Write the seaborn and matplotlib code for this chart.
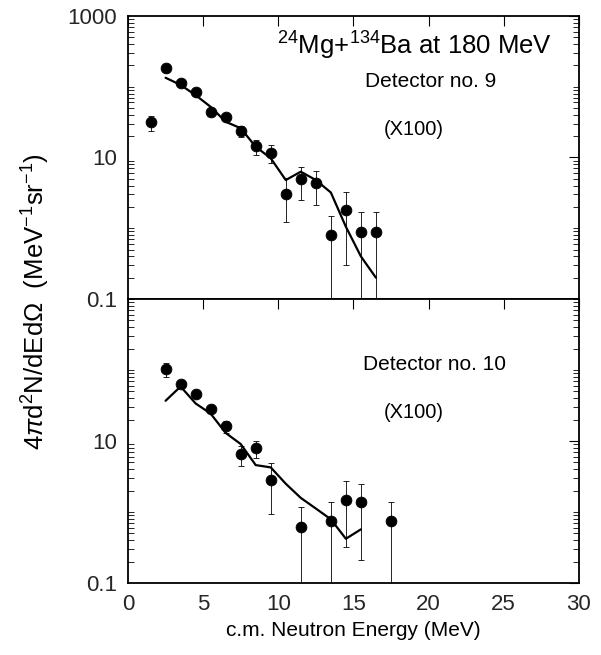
import numpy as np
import pandas as pd
import matplotlib
matplotlib.use("Agg")
import matplotlib.pyplot as plt
import seaborn as sns
from matplotlib.ticker import LogLocator, FixedLocator, NullFormatter

sns.set_theme(style="white")
plt.rcParams['font.family'] = ['Liberation Sans', 'DejaVu Sans']
plt.rcParams['mathtext.fontset'] = 'custom'
plt.rcParams['mathtext.rm'] = 'Liberation Sans'
plt.rcParams['mathtext.it'] = 'Liberation Sans:italic'

# ---- Detector no. 9 (top) ----
d9_energy = [1.5, 2.5, 3.5, 4.5, 5.5, 6.5, 7.5, 8.5, 9.5, 10.5, 11.5, 12.5, 13.5, 14.5, 15.5, 16.5]
d9_value = [31.5, 182, 112, 85, 43.5, 37, 23.7, 14.7, 11.7, 3.05, 4.97, 4.4, 0.80, 1.81, 0.895, 0.895]
d9_low = [23.9, 182, 112, 85, 43.5, 37, 19.3, 10.8, 8.3, 1.24, 2.5, 2.14, 0.01, 0.30, 0.01, 0.01]
d9_high = [38.6, 182, 112, 85, 43.5, 37, 27.9, 17.7, 15.0, 5.1, 7.4, 6.5, 1.49, 3.3, 1.7, 1.7]
d9_calc_energy = [2.5, 3.5, 4.5, 5.5, 6.5, 7.5, 8.5, 9.5, 10.5, 11.5, 12.5, 13.5, 14.5, 15.5, 16.5]
d9_calc_value = [134, 106, 76, 52, 32, 25.9, 14.2, 9.75, 4.8, 6.3, 4.8, 3.2, 1.05, 0.40, 0.20]

# ---- Detector no. 10 (bottom) ----
d10_energy = [2.5, 3.5, 4.5, 5.5, 6.5, 7.5, 8.5, 9.5, 11.5, 13.5, 14.5, 15.5, 17.5]
d10_value = [104, 64, 46, 28, 16.2, 6.6, 7.9, 2.87, 0.625, 0.736, 1.48, 1.38, 0.736]
d10_low = [81, 64, 46, 28, 13, 4.5, 5.7, 0.94, 0.01, 0.01, 0.32, 0.21, 0.01]
d10_high = [126, 64, 46, 28, 19, 8.4, 10, 4.85, 1.17, 1.38, 2.7, 2.5, 1.38]
d10_calc_energy = [2.5, 3.5, 4.5, 5.5, 6.5, 7.5, 8.5, 9.5, 10.5, 11.5, 12.5, 13.5, 14.5, 15.5]
d10_calc_value = [36.9, 58.5, 33.8, 24.3, 13.0, 9.06, 4.58, 4.25, 2.5, 1.58, 1.12, 0.79, 0.42, 0.57]

x_ticks = [0, 5, 10, 15, 20, 25, 30]
y_label_values = [1000, 10, 0.1]
y_label_texts = ["1000", "10", "0.1"]

fig = plt.figure(figsize=(6.01, 6.55), dpi=100)
ax_top = fig.add_axes([0.213, 0.5435, 0.75, 0.4321])
ax_bot = fig.add_axes([0.213, 0.1099, 0.75, 0.4336])

panels = [
    (ax_top, d9_energy, d9_value, d9_low, d9_high, d9_calc_energy, d9_calc_value),
    (ax_bot, d10_energy, d10_value, d10_low, d10_high, d10_calc_energy, d10_calc_value),
]

for i, (ax, ex, ev, elo, ehi, ce, cv) in enumerate(panels):
    ev_a = np.array(ev); lo = np.array(elo); hi = np.array(ehi)
    ax.set_yscale('log')
    ax.errorbar(ex, ev_a, yerr=[ev_a - lo, hi - ev_a], fmt='none', ecolor='black',
                elinewidth=0.6, capsize=2, capthick=0.6, zorder=2)
    sns.lineplot(x=ce, y=cv, ax=ax, color='black', linewidth=1.6, zorder=3)
    sns.scatterplot(x=ex, y=ev, ax=ax, color='black', s=60, edgecolor='black', zorder=4)
    ax.set_xlim(0, 30)
    ax.set_ylim(0.1, 1000)
    ax.xaxis.set_major_locator(FixedLocator(x_ticks))
    if i == 0:
        ax.set_yticks(y_label_values)
        ax.set_yticklabels(y_label_texts)
    else:
        ax.set_yticks(y_label_values[1:])
        ax.set_yticklabels(y_label_texts[1:])
    ax.yaxis.set_minor_locator(LogLocator(base=10, subs=np.arange(1, 10), numticks=20))
    ax.yaxis.set_minor_formatter(NullFormatter())
    ax.tick_params(axis='both', which='major', direction='in', length=7, width=0.8,
                   top=True, right=True, labelsize=16, color='black', pad=8)
    ax.tick_params(axis='y', which='minor', direction='in', length=4, width=0.6,
                   left=True, right=True, color='black')
    for s in ax.spines.values():
        s.set_color('black')
        s.set_linewidth(1.3)
    ax.set_xlabel("")
    ax.set_ylabel("")
    if i == 0:
        ax.tick_params(axis='x', labelbottom=False)

ax_top.text(0.635, 0.895, r"$^{24}$Mg+$^{134}$Ba at 180 MeV", transform=ax_top.transAxes,
            ha='center', va='center', fontsize=18.5, color='black')
ax_top.text(0.672, 0.77, "Detector no. 9", transform=ax_top.transAxes,
            ha='center', va='center', fontsize=15, color='black')
ax_top.text(0.634, 0.60, "(X100)", transform=ax_top.transAxes,
            ha='center', va='center', fontsize=14.5, color='black')
ax_bot.text(0.68, 0.77, "Detector no. 10", transform=ax_bot.transAxes,
            ha='center', va='center', fontsize=15, color='black')
ax_bot.text(0.634, 0.60, "(X100)", transform=ax_bot.transAxes,
            ha='center', va='center', fontsize=14.5, color='black')

ax_bot.set_xlabel("c.m. Neutron Energy (MeV)", fontsize=15, color='black', labelpad=4)
fig.text(0.06, 0.54, r"4$\pi$d$^2$N/dEd$\Omega$  (MeV$^{-1}$sr$^{-1}$)", rotation=90,
         ha='center', va='center', fontsize=18.5, color='black')

fig.savefig("out.png", dpi=100)
